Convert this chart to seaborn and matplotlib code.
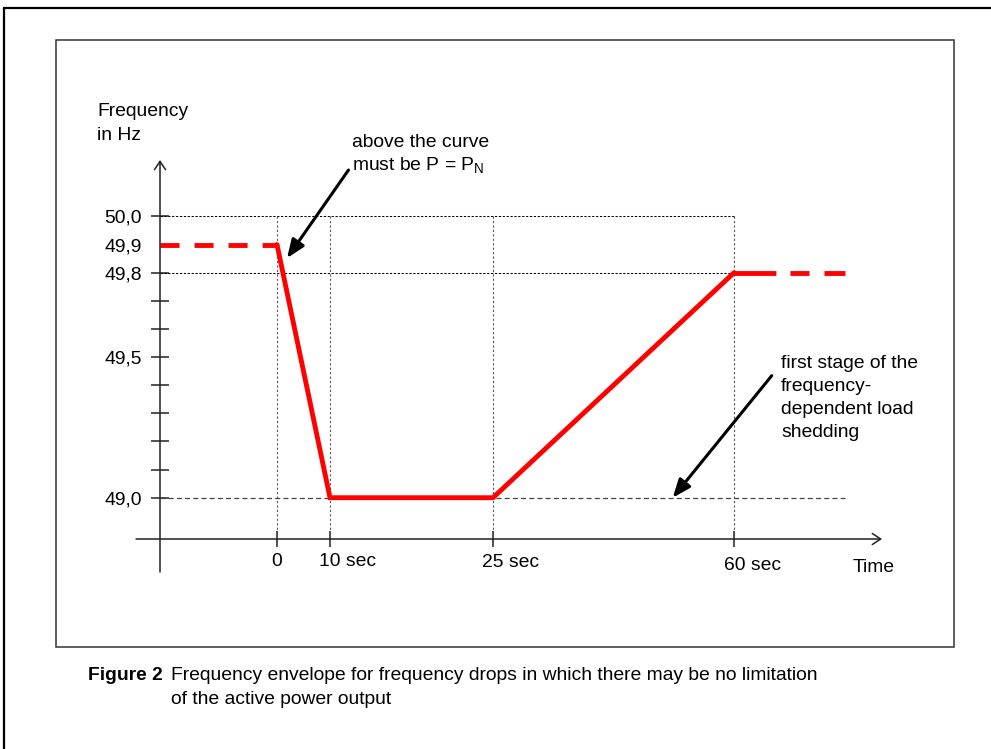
import numpy as np
import pandas as pd
import matplotlib
matplotlib.use("Agg")
import matplotlib.pyplot as plt
import seaborn as sns
from matplotlib.lines import Line2D
from matplotlib.patches import Rectangle

# ---------------- data ----------------
env_time = [0, 10, 25, 60]              # s
env_freq = [49.9, 49.0, 49.0, 49.8]     # Hz (solid envelope)
lead_time = [-20, 0]
lead_freq = [49.9, 49.9]                # dashed lead-in
tail_time = [60, 80]
tail_freq = [49.8, 49.8]                # dashed continuation
shed_time = [-20, 80]
shed_freq = [49.0, 49.0]                # load shedding stage
grid_freqs = [50.0, 49.8]
mark_times = [0, 10, 25, 60]
time_labels = ["0", "10 sec", "25 sec", "60 sec"]
ytick_vals = [49.0, 49.1, 49.2, 49.3, 49.4, 49.5, 49.6, 49.7, 49.8, 49.9, 50.0]
ytick_labels = ["49,0", "", "", "", "", "49,5", "", "", "49,8", "49,9", "50,0"]

# ---------------- style ----------------
sns.set_theme(style="white")
plt.rcParams["font.family"] = ["Liberation Sans", "DejaVu Sans"]
plt.rcParams["mathtext.fontset"] = "custom"
plt.rcParams["mathtext.rm"] = "Liberation Sans"
plt.rcParams["mathtext.it"] = "Liberation Sans:italic"
plt.rcParams["lines.scale_dashes"] = False
plt.rcParams["text.color"] = "black"
plt.rcParams["xtick.labelcolor"] = "black"
plt.rcParams["ytick.labelcolor"] = "black"

FS = 13.9
W, H = 991, 749
fig = plt.figure(figsize=(W / 100, H / 100), dpi=100)
fig.patch.set_facecolor("white")

def fp(x, y):
    return (x / W, 1 - y / H)

# schematic (non-linear) time axis
T_KN = np.array([-30, -20, 0, 10, 25, 60, 80, 100], dtype=float)
P_KN = np.array([101.5, 160, 277, 330, 493, 734, 845, 956], dtype=float)

def fwd(t):
    return np.interp(t, T_KN, P_KN)

def inv(p):
    return np.interp(p, P_KN, T_KN)

ax = fig.add_axes([160 / W, 1 - 539 / H, (882 - 160) / W, (539 - 160) / H])
ax.set_facecolor("none")
ax.set_xscale("function", functions=(fwd, inv))
ax.set_xlim(float(inv(160)), float(inv(882)))
ppu = 28.125 / 0.1
ax.set_ylim(49.0 - (539 - 497.7) / ppu, 49.0 + (497.7 - 160) / ppu)
for s in ax.spines.values():
    s.set_visible(False)

# grid-like reference lines
for f in grid_freqs:
    ax.plot([-20, 60], [f, f], color="black", lw=0.75, ls=(0, (1.6, 1.2)), zorder=1)
for t in mark_times:
    ax.plot([t, t], [50.0, ax.get_ylim()[0]], color="#555555", lw=0.8,
            ls=(0, (1.6, 1.6)), zorder=1)
ax.plot(shed_time, shed_freq, color="#444444", lw=0.9, ls=(0, (3.6, 2.3)), zorder=1)

# envelope
df = pd.DataFrame({"time": env_time, "freq": env_freq})
sns.lineplot(data=df, x="time", y="freq", ax=ax, color="#ff0000", lw=3.5,
             sort=False, estimator=None, zorder=3)
ax.lines[-1].set_solid_joinstyle("miter")
ax.plot(lead_time, lead_freq, color="#ff0000", lw=3.5, ls=(0, (13.7, 10.8)),
        solid_capstyle="butt", dash_capstyle="butt", zorder=3)
ax.plot(tail_time, tail_freq, color="#ff0000", lw=3.5,
        ls=(0, (30.2, 10.1, 13.7, 10.8, 15.1, 30)),
        dash_capstyle="butt", zorder=3)
ax.set_xlabel("")
ax.set_ylabel("")

# axes lines with open arrow heads
axis_c = "#222222"
ax.annotate("", xy=(0, 1), xytext=(0, -33 / 379), xycoords="axes fraction",
            arrowprops=dict(arrowstyle="->,head_length=0.3,head_width=0.2",
                            lw=1.1, color=axis_c, shrinkA=0, shrinkB=0,
                            mutation_scale=20))
ax.annotate("", xy=(1, 0), xytext=(-24 / 722, 0), xycoords="axes fraction",
            arrowprops=dict(arrowstyle="->,head_length=0.3,head_width=0.2",
                            lw=1.1, color=axis_c, shrinkA=0, shrinkB=0,
                            mutation_scale=20))

# ticks
ax.set_yticks(ytick_vals)
ax.set_yticklabels(ytick_labels)
ax.tick_params(axis="y", direction="inout", length=12.5, width=1.1, color=axis_c,
               pad=6.9, labelsize=FS, labelcolor="black", left=True)
ax.yaxis.get_major_ticks()[9].tick1line.set_visible(False)
ax.set_xticks(mark_times)
ax.set_xticklabels([])
ax.tick_params(axis="x", direction="inout", length=11.5, width=1.1, color=axis_c,
               bottom=True)

# x labels (number centred on tick)
ybot = ax.get_ylim()[0]
lab_off = [(0, -27), (-11, -27), (-11, -28), (-10, -31)]
for t, lab, (dx, dy) in zip(mark_times, time_labels, lab_off):
    ax.annotate(lab, xy=(t, ybot), xytext=(dx * 0.72, dy * 0.72),
                textcoords="offset points", ha="center" if lab == "0" else "left",
                va="baseline", fontsize=FS, color="black", annotation_clip=False)

# pointer arrows
ax.annotate("", xy=(1.9, 49.852), xytext=(11.7, 50.165),
            arrowprops=dict(arrowstyle="-|>,head_length=0.55,head_width=0.22",
                            lw=2.2, color="black", shrinkA=0, shrinkB=0,
                            mutation_scale=20), zorder=5)
ax.annotate("", xy=(51.1, 49.0), xytext=(66.8, 49.434),
            arrowprops=dict(arrowstyle="-|>,head_length=0.55,head_width=0.22",
                            lw=2.2, color="black", shrinkA=0, shrinkB=0,
                            mutation_scale=20), zorder=5)

# texts
tk = dict(fontsize=FS, va="baseline", color="black")
fig.text(*fp(97, 116), "Frequency", **tk)
fig.text(*fp(97, 140), "in Hz", **tk)
fig.text(*fp(853, 572), "Time", **tk)
fig.text(*fp(352, 147), "above the curve", **tk)
fig.text(*fp(352, 170), r"must be P = P$_{\rm N}$", **tk)
for i, line in enumerate(["first stage of the", "frequency-",
                          "dependent load", "shedding"]):
    fig.text(*fp(781, 368 + 23 * i), line, **tk)

fig.text(*fp(88, 680), "Figure 2", fontweight="bold", **tk)
fig.text(*fp(171, 680),
         "Frequency envelope for frequency drops in which there may be no limitation",
         **tk)
fig.text(*fp(171, 704), "of the active power output", **tk)

# frames
fig.add_artist(Line2D([4 / W, 1], [1 - 8 / H, 1 - 8 / H], color="black", lw=1.6,
                      transform=fig.transFigure))
fig.add_artist(Line2D([4 / W, 4 / W], [1 - 8 / H, 0], color="black", lw=1.6,
                      transform=fig.transFigure))
fig.add_artist(Rectangle(fp(56, 647), (954 - 56) / W, (647 - 40) / H, fill=False,
                         lw=1.1, ec="#333333", transform=fig.transFigure))

fig.savefig("out.png", dpi=100, facecolor="white")
